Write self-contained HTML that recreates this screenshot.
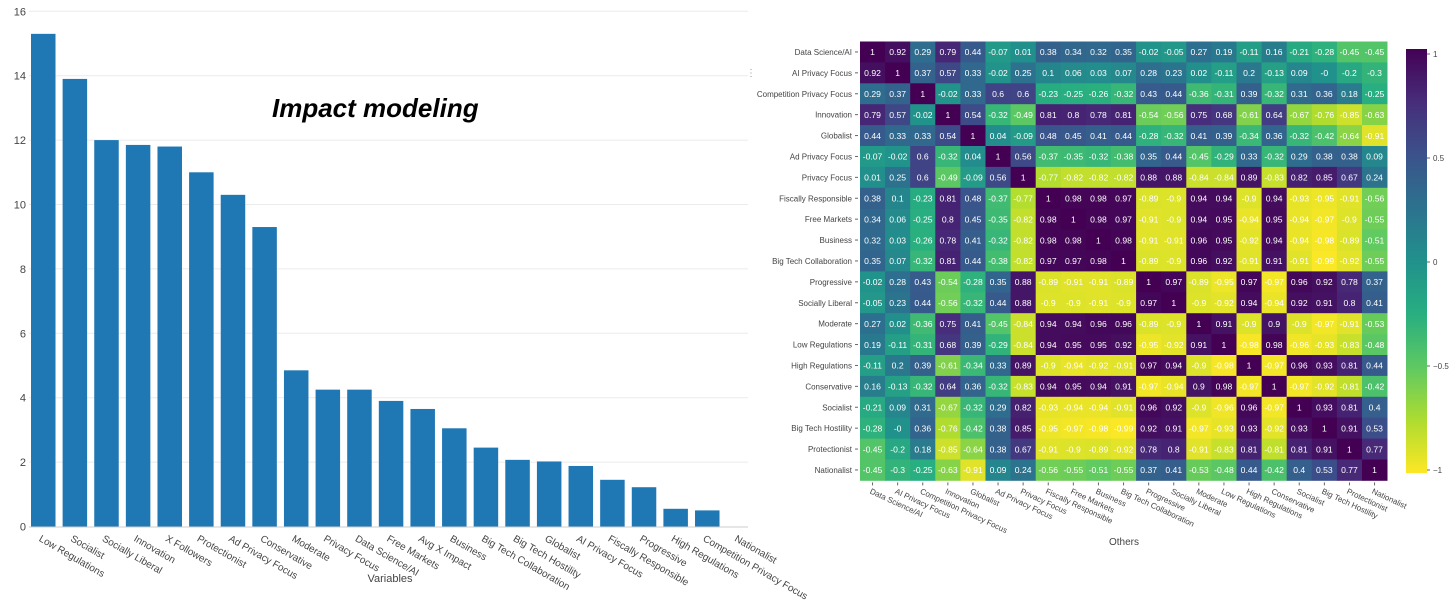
<!DOCTYPE html>
<html><head><meta charset="utf-8">
<style>
html,body{margin:0;padding:0;background:#fff;}
svg{display:block;font-family:"Liberation Sans",Arial,sans-serif;}
</style></head>
<body>
<svg id="root" width="1456" height="600" viewBox="0 0 1456 600">
  <defs>
    <linearGradient id="cbar" x1="0" y1="0" x2="0" y2="1">
      <stop offset="0" stop-color="#440154"/>
      <stop offset="0.125" stop-color="#472d7b"/>
      <stop offset="0.25" stop-color="#3b528b"/>
      <stop offset="0.375" stop-color="#2c728e"/>
      <stop offset="0.5" stop-color="#21918c"/>
      <stop offset="0.625" stop-color="#28ae80"/>
      <stop offset="0.75" stop-color="#5ec962"/>
      <stop offset="0.875" stop-color="#addc30"/>
      <stop offset="1" stop-color="#fde725"/>
    </linearGradient>
  </defs>
  <g id="bar"></g>
  <g id="heat"></g>
</svg>
<script>
const barCategories = ["Low Regulations","Socialist","Socially Liberal","Innovation","X Followers","Protectionist","Ad Privacy Focus","Conservative","Moderate","Privacy Focus","Data Science/AI","Free Markets","Avg X Impact","Business","Big Tech Collaboration","Big Tech Hostility","Globalist","AI Privacy Focus","Fiscally Responsible","Progressive","High Regulations","Competition Privacy Focus","Nationalist"];
const barValues = [15.3,13.9,12.0,11.85,11.8,11.0,10.3,9.3,4.85,4.25,4.25,3.9,3.65,3.05,2.45,2.07,2.02,1.88,1.45,1.22,0.55,0.5,0];
const barTicks = [0,2,4,6,8,10,12,14,16];

const heatLabels = ["Data Science/AI","AI Privacy Focus","Competition Privacy Focus","Innovation","Globalist","Ad Privacy Focus","Privacy Focus","Fiscally Responsible","Free Markets","Business","Big Tech Collaboration","Progressive","Socially Liberal","Moderate","Low Regulations","High Regulations","Conservative","Socialist","Big Tech Hostility","Protectionist","Nationalist"];
const heatValues = [
[1,0.92,0.29,0.79,0.44,-0.07,0.01,0.38,0.34,0.32,0.35,-0.02,-0.05,0.27,0.19,-0.11,0.16,-0.21,-0.28,-0.45,-0.45],
[0.92,1,0.37,0.57,0.33,-0.02,0.25,0.1,0.06,0.03,0.07,0.28,0.23,0.02,-0.11,0.2,-0.13,0.09,-0,-0.2,-0.3],
[0.29,0.37,1,-0.02,0.33,0.6,0.6,-0.23,-0.25,-0.26,-0.32,0.43,0.44,-0.36,-0.31,0.39,-0.32,0.31,0.36,0.18,-0.25],
[0.79,0.57,-0.02,1,0.54,-0.32,-0.49,0.81,0.8,0.78,0.81,-0.54,-0.56,0.75,0.68,-0.61,0.64,-0.67,-0.76,-0.85,-0.63],
[0.44,0.33,0.33,0.54,1,0.04,-0.09,0.48,0.45,0.41,0.44,-0.28,-0.32,0.41,0.39,-0.34,0.36,-0.32,-0.42,-0.64,-0.91],
[-0.07,-0.02,0.6,-0.32,0.04,1,0.56,-0.37,-0.35,-0.32,-0.38,0.35,0.44,-0.45,-0.29,0.33,-0.32,0.29,0.38,0.38,0.09],
[0.01,0.25,0.6,-0.49,-0.09,0.56,1,-0.77,-0.82,-0.82,-0.82,0.88,0.88,-0.84,-0.84,0.89,-0.83,0.82,0.85,0.67,0.24],
[0.38,0.1,-0.23,0.81,0.48,-0.37,-0.77,1,0.98,0.98,0.97,-0.89,-0.9,0.94,0.94,-0.9,0.94,-0.93,-0.95,-0.91,-0.56],
[0.34,0.06,-0.25,0.8,0.45,-0.35,-0.82,0.98,1,0.98,0.97,-0.91,-0.9,0.94,0.95,-0.94,0.95,-0.94,-0.97,-0.9,-0.55],
[0.32,0.03,-0.26,0.78,0.41,-0.32,-0.82,0.98,0.98,1,0.98,-0.91,-0.91,0.96,0.95,-0.92,0.94,-0.94,-0.98,-0.89,-0.51],
[0.35,0.07,-0.32,0.81,0.44,-0.38,-0.82,0.97,0.97,0.98,1,-0.89,-0.9,0.96,0.92,-0.91,0.91,-0.91,-0.99,-0.92,-0.55],
[-0.02,0.28,0.43,-0.54,-0.28,0.35,0.88,-0.89,-0.91,-0.91,-0.89,1,0.97,-0.89,-0.95,0.97,-0.97,0.96,0.92,0.78,0.37],
[-0.05,0.23,0.44,-0.56,-0.32,0.44,0.88,-0.9,-0.9,-0.91,-0.9,0.97,1,-0.9,-0.92,0.94,-0.94,0.92,0.91,0.8,0.41],
[0.27,0.02,-0.36,0.75,0.41,-0.45,-0.84,0.94,0.94,0.96,0.96,-0.89,-0.9,1,0.91,-0.9,0.9,-0.9,-0.97,-0.91,-0.53],
[0.19,-0.11,-0.31,0.68,0.39,-0.29,-0.84,0.94,0.95,0.95,0.92,-0.95,-0.92,0.91,1,-0.98,0.98,-0.96,-0.93,-0.83,-0.48],
[-0.11,0.2,0.39,-0.61,-0.34,0.33,0.89,-0.9,-0.94,-0.92,-0.91,0.97,0.94,-0.9,-0.98,1,-0.97,0.96,0.93,0.81,0.44],
[0.16,-0.13,-0.32,0.64,0.36,-0.32,-0.83,0.94,0.95,0.94,0.91,-0.97,-0.94,0.9,0.98,-0.97,1,-0.97,-0.92,-0.81,-0.42],
[-0.21,0.09,0.31,-0.67,-0.32,0.29,0.82,-0.93,-0.94,-0.94,-0.91,0.96,0.92,-0.9,-0.96,0.96,-0.97,1,0.93,0.81,0.4],
[-0.28,-0,0.36,-0.76,-0.42,0.38,0.85,-0.95,-0.97,-0.98,-0.99,0.92,0.91,-0.97,-0.93,0.93,-0.92,0.93,1,0.91,0.53],
[-0.45,-0.2,0.18,-0.85,-0.64,0.38,0.67,-0.91,-0.9,-0.89,-0.92,0.78,0.8,-0.91,-0.83,0.81,-0.81,0.81,0.91,1,0.77],
[-0.45,-0.3,-0.25,-0.63,-0.91,0.09,0.24,-0.56,-0.55,-0.51,-0.55,0.37,0.41,-0.53,-0.48,0.44,-0.42,0.4,0.53,0.77,1]
];
const cbarTicks = [1,0.5,0,-0.5,-1];
const cbarTickText = ["1","0.5","0","−0.5","−1"];

const NS = "http://www.w3.org/2000/svg";
function mk(tag, attrs, parent, text){
  const e = document.createElementNS(NS, tag);
  for (const k in attrs) e.setAttribute(k, attrs[k]);
  if (text !== undefined) e.textContent = text;
  parent.appendChild(e);
  return e;
}

// ---------- Bar chart ----------
const bar = document.getElementById('bar');
const bx0 = 29, bPitch = 31.62, bW = 24.5;
const yScale = v => 526.5 - v * 32.2;
const xBand = i => bx0 + i * bPitch;

barTicks.forEach(t => {
  if (t > 0) {
    const gl = mk('line', {x1: 29, x2: 748, y1: yScale(t), y2: yScale(t), stroke: '#ebebeb', 'stroke-width': 1}, bar);
    
    
  }
  const tl = mk('text', {x: 26, y: yScale(t) + 4, 'text-anchor': 'end', 'font-size': 11, fill: '#444'}, bar, String(t));
  
  
});

barValues.forEach((v, i) => {
  const x = xBand(i) + 2;
  const r = mk('rect', {x: x, y: yScale(v), width: bW, height: Math.max(0, yScale(0) - yScale(v)), fill: '#1f77b4'}, bar);
  
  
  const cx = x + bW / 2 - 3;
  const lab = mk('text', {x: cx, y: 541, 'font-size': 10, fill: '#444', transform: `rotate(30 ${cx} 537)`}, bar, barCategories[i]);
  
  
});

const ax = mk('line', {x1: 29, x2: 748, y1: yScale(0) + 0.5, y2: yScale(0) + 0.5, stroke: '#ccc', 'stroke-width': 1}, bar);



const xt = mk('text', {x: 390, y: 582, 'text-anchor': 'middle', 'font-size': 11, fill: '#444'}, bar, 'Variables');



const yt = mk('text', {x: -4, y: 286, 'font-size': 11, fill: '#444', transform: 'rotate(-90 -4 286)', 'text-anchor': 'middle'}, bar, 'Impact');



const title = mk('text', {x: 272, y: 117, 'font-size': 26, 'font-weight': 'bold', 'font-style': 'italic', fill: '#000'}, bar, 'Impact modeling');



const menu = mk('text', {x: 746, y: 76, 'font-size': 10, fill: '#999'}, bar, '⋮');



// ---------- Heatmap ----------
const heat = document.getElementById('heat');
const hx0 = 860, hy0 = 41.5, cw = 25.1, ch = 20.9;
const stops = [[68,1,84],[71,45,123],[59,82,139],[44,114,142],[33,145,140],[40,174,128],[94,201,98],[173,220,48],[253,231,37]];
function color(v){
  const t = Math.min(1, Math.max(0, (1 - v) / 2)) * 8;
  const i = Math.min(7, Math.floor(t)), f = t - i;
  const a = stops[i], b = stops[i + 1];
  return `rgb(${a.map((c, k) => Math.round(c + (b[k] - c) * f)).join(',')})`;
}
const fmt = v => (Object.is(v, -0) ? '-0' : String(v));

heatValues.forEach((row, r) => {
  row.forEach((v, c) => {
    const cell = mk('rect', {x: hx0 + c * cw, y: hy0 + r * ch, width: cw + 0.4, height: ch + 0.4, fill: color(v)}, heat);
    
    
    const t = mk('text', {x: hx0 + c * cw + cw / 2, y: hy0 + r * ch + ch / 2 + 3.2, 'text-anchor': 'middle', 'font-size': 8.6, fill: '#fff'}, heat, (r === 18 && c === 1) ? '-0' : fmt(v));
    
    
  });
});

heatLabels.forEach((l, i) => {
  const yl = hy0 + i * ch + ch / 2;
  const t = mk('text', {x: hx0 - 8, y: yl + 3, 'text-anchor': 'end', 'font-size': 8, fill: '#444'}, heat, l);
  
  
  const tk = mk('line', {x1: hx0 - 5, x2: hx0 - 2, y1: yl, y2: yl, stroke: '#666'}, heat);
  
  
  const xl = hx0 + i * cw + cw / 2;
  const bx = hy0 + 21 * ch;
  const tk2 = mk('line', {x1: xl, x2: xl, y1: bx + 2, y2: bx + 5, stroke: '#666'}, heat);
  
  
  const t2 = mk('text', {x: xl - 2, y: bx + 13, 'font-size': 8, fill: '#444', transform: `rotate(25 ${xl - 2} ${bx + 10})`}, heat, l);
  
  
});

const ot = mk('text', {x: 1124, y: 545, 'text-anchor': 'middle', 'font-size': 10, fill: '#444'}, heat, 'Others');



// colorbar
const cbTop = 49, cbBot = 473, cbX = 1406, cbW = 21;
const cb = mk('rect', {x: cbX, y: cbTop, width: cbW, height: cbBot - cbTop, fill: 'url(#cbar)'}, heat);


const cbY = v => cbTop + 5 + (1 - v) / 2 * (cbBot - cbTop - 8);
cbarTicks.forEach((v, i) => {
  const y = cbY(v);
  const tl = mk('line', {x1: cbX + cbW, x2: cbX + cbW + 3, y1: y, y2: y, stroke: '#666'}, heat);
  
  
  const tt = mk('text', {x: cbX + cbW + 6, y: y + 3, 'font-size': 8, fill: '#444'}, heat, cbarTickText[i]);
  
  
});
</script>
</body></html>
